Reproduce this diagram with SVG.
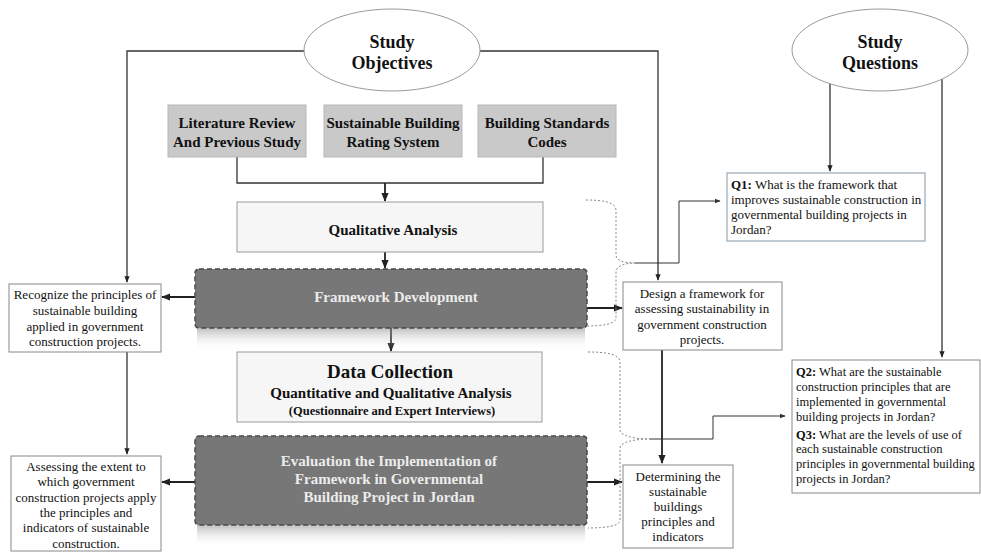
<svg xmlns="http://www.w3.org/2000/svg" width="981" height="552" viewBox="0 0 981 552">
<style>
.t{font-family:"Liberation Serif","Times New Roman",serif;fill:#111}
.b{font-weight:bold}
.c{text-anchor:middle}
.s13{font-size:13px}
.s12{font-size:12.5px}
.s15{font-size:15px}
.src{fill:#c9c9c9;stroke:#b8b8b8;stroke-width:1}
.light{fill:#f6f6f6;stroke:#9a9a9a;stroke-width:1}
.dark{fill:#777777;stroke:#4a4a4a;stroke-width:1.5;stroke-dasharray:5 3}
.wbox{fill:#ffffff;stroke:#888;stroke-width:1}
.qbox{fill:#ffffff;stroke:#9aa9b3;stroke-width:1.2}
.ell{fill:#ffffff;stroke:#9a9a9a;stroke-width:1}
.ln{fill:none;stroke:#222;stroke-width:1.8}
.ln2{fill:none;stroke:#333;stroke-width:1.3}
.thin{fill:none;stroke:#333;stroke-width:1}
.brace{fill:none;stroke:#888;stroke-width:1;stroke-dasharray:2 2}
.wt{fill:#ececec}
</style>
<defs>
<marker id="ah" viewBox="0 0 10 10" refX="9" refY="5" markerWidth="5" markerHeight="5" orient="auto-start-reverse" markerUnits="strokeWidth">
<path d="M0,1 L10,5 L0,9 z" fill="#222"/>
</marker>
<marker id="ahs" viewBox="0 0 10 10" refX="9" refY="5" markerWidth="6" markerHeight="6" orient="auto" markerUnits="strokeWidth">
<path d="M0,1 L10,5 L0,9 z" fill="#333"/>
</marker>
<linearGradient id="sh" x1="0" y1="0" x2="0" y2="1">
<stop offset="0" stop-color="#8a8a8a" stop-opacity="0.55"/>
<stop offset="1" stop-color="#ffffff" stop-opacity="0"/>
</linearGradient>
</defs>

<g id="connectors">
<path class="ln2" d="M305,51 L127,51 L127,282" marker-end="url(#ah)"/>
<path class="ln2" d="M480,51 L658,51 L658,280" marker-end="url(#ah)"/>
<path class="ln2" d="M237,157 L237,183 L543,183 L543,157"/>
<path class="ln" d="M385,183 L385,201" marker-end="url(#ah)"/>
<path class="ln" d="M385,252 L385,268" marker-end="url(#ah)"/>
<path class="ln" d="M391,328 L391,351" marker-end="url(#ah)"/>
<path class="ln" d="M195,297 L162,297" marker-end="url(#ah)"/>
<path class="ln" d="M587,308 L622,308" marker-end="url(#ah)"/>
<path class="ln" d="M195,482 L162,482" marker-end="url(#ah)"/>
<path class="ln" d="M587,482 L622,482" marker-end="url(#ah)"/>
<path class="ln2" d="M127,352 L127,454" marker-end="url(#ah)"/>
<path class="ln" d="M662,350 L662,463" marker-end="url(#ah)"/>
<path class="ln2" d="M830,84 L830,171" marker-end="url(#ah)"/>
<path class="ln2" d="M942,79 L942,357" marker-end="url(#ah)"/>
<path class="brace" d="M586,200 C602,200 616,202 616,210 L616,255 C616,261 625,263 635,263 C625,263 616,266 616,272 L616,318 C616,324 602,326 587,326"/>
<path class="brace" d="M588,352 C606,352 620,354 620,362 L620,430 C620,436 635,439 650,439 C635,439 620,442 620,448 L620,520 C620,526 606,528 588,528"/>
<path class="thin" d="M635,263 L679,263 L679,201 L720,201" marker-end="url(#ahs)"/>
<path class="thin" d="M650,439 L713,439 L713,416 L785,416" marker-end="url(#ahs)"/>
</g>

<g id="study-objectives">
<ellipse class="ell" cx="392" cy="50" rx="88" ry="41"/>
<text class="t b c" x="392" y="48" font-size="18">Study</text>
<text class="t b c" x="392" y="69" font-size="18">Objectives</text>
</g>

<g id="study-questions">
<ellipse class="ell" cx="880" cy="50" rx="88" ry="41"/>
<text class="t b c" x="880" y="48" font-size="18">Study</text>
<text class="t b c" x="880" y="69" font-size="18">Questions</text>
</g>

<g id="literature-review">
<rect class="src" x="168" y="105" width="138" height="52"/>
<text class="t b c s15" x="237" y="128">Literature Review</text>
<text class="t b c s15" x="237" y="147">And Previous Study</text>
</g>

<g id="rating-system">
<rect class="src" x="324" y="105" width="138" height="52"/>
<text class="t b c s15" x="393" y="128">Sustainable Building</text>
<text class="t b c s15" x="393" y="147">Rating System</text>
</g>

<g id="standards-codes">
<rect class="src" x="478" y="105" width="138" height="52"/>
<text class="t b c s15" x="547" y="128">Building Standards</text>
<text class="t b c s15" x="547" y="147">Codes</text>
</g>

<g id="qualitative-analysis">
<rect class="light" x="237" y="202" width="306" height="50"/>
<text class="t b c s15" x="393" y="235">Qualitative Analysis</text>
</g>

<g id="framework-development">
<rect x="197" y="328" width="388" height="22" fill="url(#sh)"/>
<rect class="dark" x="195" y="269" width="392" height="59" rx="4"/>
<text class="t b c s15 wt" x="396" y="302">Framework Development</text>
</g>

<g id="data-collection">
<rect class="light" x="237" y="352" width="305" height="70"/>
<text class="t b c" x="390" y="378" font-size="19">Data Collection</text>
<text class="t b c s15" x="391" y="398">Quantitative and Qualitative Analysis</text>
<text class="t b c" x="392" y="415" font-size="12.5">(Questionnaire and Expert Interviews)</text>
</g>

<g id="evaluation">
<rect x="197" y="525" width="388" height="22" fill="url(#sh)"/>
<rect class="dark" x="195" y="436" width="392" height="89" rx="4"/>
<text class="t b c s15 wt" x="389" y="466">Evaluation the Implementation of</text>
<text class="t b c s15 wt" x="389" y="484">Framework in Governmental</text>
<text class="t b c s15 wt" x="389" y="502">Building Project in Jordan</text>
</g>

<g id="recognize">
<rect class="wbox" x="9" y="284" width="152" height="68"/>
<text class="t c s13" x="85" y="299">Recognize the principles of</text>
<text class="t c s13" x="85" y="315">sustainable building</text>
<text class="t c s13" x="85" y="331">applied in government</text>
<text class="t c s13" x="85" y="346">construction projects.</text>
</g>

<g id="assessing">
<rect class="wbox" x="11" y="456" width="150" height="95"/>
<text class="t c s13" x="86" y="471">Assessing the extent to</text>
<text class="t c s13" x="86" y="486">which government</text>
<text class="t c s13" x="86" y="502">construction projects apply</text>
<text class="t c s13" x="86" y="517">the principles and</text>
<text class="t c s13" x="86" y="532">indicators of sustainable</text>
<text class="t c s13" x="86" y="548">construction.</text>
</g>

<g id="design-framework">
<rect class="wbox" x="623" y="282" width="159" height="68"/>
<text class="t c s13" x="702" y="298">Design a framework for</text>
<text class="t c s13" x="702" y="313">assessing sustainability in</text>
<text class="t c s13" x="702" y="329">government construction</text>
<text class="t c s13" x="702" y="344">projects.</text>
</g>

<g id="determining">
<rect class="wbox" x="623" y="465" width="110" height="83"/>
<text class="t c s13" x="678" y="481">Determining the</text>
<text class="t c s13" x="678" y="496">sustainable</text>
<text class="t c s13" x="678" y="511">buildings</text>
<text class="t c s13" x="678" y="526">principles and</text>
<text class="t c s13" x="678" y="541">indicators</text>
</g>

<g id="q1">
<rect class="qbox" x="727" y="173" width="198" height="68"/>
<text class="t s13" x="731" y="189"><tspan class="b">Q1:</tspan> What is the framework that</text>
<text class="t s13" x="731" y="204">improves sustainable construction in</text>
<text class="t s13" x="731" y="219">governmental building projects in</text>
<text class="t s13" x="731" y="234">Jordan?</text>
</g>

<g id="q2-q3">
<rect class="wbox" x="792" y="360" width="188" height="133"/>
<text class="t s12" x="796" y="376"><tspan class="b">Q2:</tspan> What are the sustainable</text>
<text class="t s12" x="796" y="391">construction principles that are</text>
<text class="t s12" x="796" y="406">implemented in governmental</text>
<text class="t s12" x="796" y="421">building projects in Jordan?</text>
<text class="t s12" x="796" y="439"><tspan class="b">Q3:</tspan> What are the levels of use of</text>
<text class="t s12" x="796" y="453">each sustainable construction</text>
<text class="t s12" x="796" y="468">principles in governmental building</text>
<text class="t s12" x="796" y="483">projects in Jordan?</text>
</g>
</svg>
